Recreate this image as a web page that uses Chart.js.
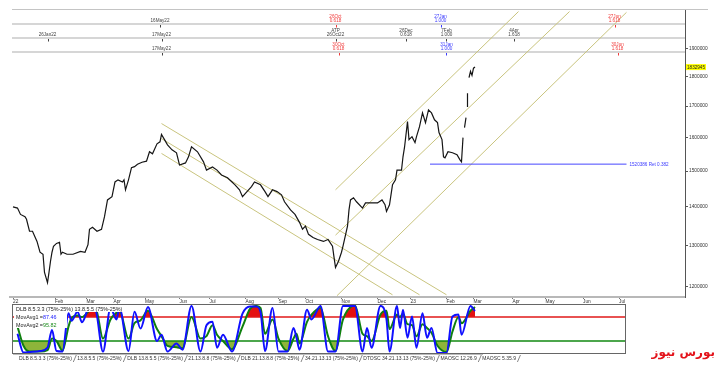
<!DOCTYPE html>
<html>
<head>
<meta charset="utf-8">
<script src="https://cdn.jsdelivr.net/npm/chart.js@4.4.1/dist/chart.umd.min.js"></script>
<style>
  html, body { margin: 0; padding: 0; background: #fff; }
  #wrap { position: relative; width: 719px; height: 365px; overflow: hidden; }
  #price { position: absolute; left: 0; top: 0; }
  #osc { position: absolute; left: 0; top: 300px; }
  #brand { position: absolute; right: 4px; top: 345px; font: bold 12px "DejaVu Sans"; color: #e3131b; direction: rtl; white-space: nowrap; }
</style>
</head>
<body>
<div id="wrap">
  <canvas id="price" width="719" height="304"></canvas>
  <canvas id="osc" width="719" height="65"></canvas>
  <div id="brand">بورس نیوز</div>
</div>
<script>
// month ticks (trading-bar index from Jan 2022)
const monthBars = [0, 28, 49, 67, 88, 111, 131, 155, 177, 195, 219, 243, 265, 289, 307, 333, 355, 380, 404]
const monthLabels = ['22', 'Feb', 'Mar', 'Apr', 'May', 'Jun', 'Jul', 'Aug', 'Sep', 'Oct', 'Nov', 'Dec', '23', 'Feb', 'Mar', 'Apr', 'May', 'Jun', 'Jul']

// right axis ticks
const priceTicks = [1200000, 1300000, 1400000, 1500000, 1600000, 1700000, 1800000, 1900000]

// close line
const priceBars = [
  0, 3, 5, 8, 9, 11, 13, 16, 18, 20, 21, 23, 24, 25, 26, 27, 29, 31, 32, 33,
  36, 40, 45, 48, 50, 51, 53, 56, 59, 61, 63, 66, 68, 70, 73, 74, 75, 77, 79, 81,
  83, 86, 89, 91, 93, 96, 98, 99, 101, 103, 106, 109, 111, 115, 117, 119, 123, 127, 129, 133,
  136, 139, 143, 146, 148, 151, 153, 156, 159, 161, 165, 168, 170, 173, 176, 179, 181, 185, 188, 191,
  193, 195, 197, 200, 203, 207, 210, 213, 214, 215, 217, 219, 220, 223, 224, 225, 227, 229, 233, 235,
  238, 243, 246, 248, 249, 251, 253, 255, 256, 259, 260, 261, 263, 264, 266, 268, 269, 271, 273, 275,
  277, 279, 281, 283, 284, 286, 287, 288, 290, 293, 296, 298, 299, 300, 300.5, 301, 302, 302.5, 303, 303,
  303.5, 304, 305, 306, 307, 308
]
const priceClose = [
  1400000, 1397000, 1380000, 1374000, 1367000, 1336000, 1336000, 1310000, 1283000, 1278000,
  1234000, 1210000, 1234000, 1261000, 1283000, 1298000, 1305000, 1308000, 1278000, 1283000,
  1278000, 1278000, 1285000, 1283000, 1302000, 1341000, 1346000, 1336000, 1341000, 1374000,
  1419000, 1428000, 1469000, 1475000, 1469000, 1475000, 1447000, 1475000, 1510000, 1513000,
  1520000, 1526000, 1529000, 1557000, 1551000, 1581000, 1587000, 1610000, 1594000, 1578000,
  1563000, 1554000, 1518000, 1524000, 1542000, 1572000, 1557000, 1527000, 1503000, 1512000,
  1503000, 1489000, 1481000, 1469000, 1461000, 1447000, 1428000, 1442000, 1456000, 1469000,
  1461000, 1442000, 1428000, 1447000, 1442000, 1433000, 1414000, 1392000, 1380000, 1359000,
  1341000, 1349000, 1328000, 1320000, 1315000, 1310000, 1315000, 1298000, 1271000, 1246000,
  1261000, 1283000, 1298000, 1349000, 1392000, 1419000, 1425000, 1414000, 1397000, 1411000,
  1411000, 1411000, 1419000, 1406000, 1388000, 1406000, 1461000, 1475000, 1503000, 1503000,
  1542000, 1570000, 1650000, 1594000, 1603000, 1585000, 1603000, 1634000, 1678000, 1647000,
  1688000, 1678000, 1656000, 1647000, 1616000, 1594000, 1542000, 1539000, 1557000, 1554000,
  1548000, 1533000, 1527000, 1600000, null, 1631000, 1663000, null, 1697000, 1743000,
  null, 1796000, 1818000, 1804000, 1829000, 1832945
]

// trend channels: [startBar, startPrice, endBar, endPrice]
const downChannel = [
  [99, 1644000, 289, 1182000],
  [99, 1597000, 271, 1182000],
  [99, 1552000, 253, 1182000]
]
const upChannel = [
  [215, 1447000, 337, 2040000],
  [215, 1326000, 371, 2040000],
  [216, 1180000, 409, 2037000]
]

// 0.382 retracement
const retLevel = 1520386
const retFrom = 278
const retTo = 409

// fibonacci time marks, three rows
const timeMarkBars = [
  [98, 215, 285, 401],
  [23, 99, 215, 262, 289, 334],
  [99, 217, 289, 403]
]
const timeMarkText = [
  ['16May22', '26Oct\n0.618', '27Jan\n1.000', '27Jun\n1.618'],
  ['26Jan22', '17May22', 'ATP\n26Oct22', '26Dec\n0.618', '7Feb\n1.000', '4Apr\n1.618'],
  ['17May22', '30Oct\n0.618', '31Jan\n1.000', '30Jun\n1.618']
]
const timeMarkColor = [
  ['#444', '#f03a3a', '#3a3aff', '#f03a3a'],
  ['#444', '#444', '#444', '#444', '#444', '#444'],
  ['#444', '#f03a3a', '#3a3aff', '#f03a3a']
]
const rowLineY = [24, 38, 52]

// oscillator
const oscBars = [3, 7, 11, 18, 23, 26, 29, 33, 37, 39, 43, 46, 51, 55, 60, 65, 69, 71, 77, 81,
  85, 90, 96, 99, 103, 109, 113, 119, 125, 129, 133, 136, 140, 146, 153, 158, 162, 165, 168, 173,
  177, 183, 187, 189, 191, 196, 199, 205, 210, 215, 220, 228, 233, 236, 239, 245, 249, 251, 256, 258,
  260, 263, 266, 269, 273, 276, 279, 283, 289, 293, 297, 299, 305, 308]
const movAvg1 = [40, 1, 2, 4, 11, 48, 4, 3, 83, 67, 86, 64, 96, 90, 3, 94, 70, 94, 4, 86,
  51, 96, 25, 38, 3, 20, 7, 98, 3, 58, 65, 11, 38, 3, 82, 97, 97, 86, 4, 94,
  3, 3, 52, 32, 7, 90, 70, 98, 3, 3, 98, 98, 3, 52, 11, 98, 70, 3, 98, 52,
  90, 32, 76, 11, 83, 32, 52, 0, 0, 76, 80, 38, 98, 87.46]
const movAvg2 = [55, 15, 3, 3, 6, 30, 25, 5, 55, 72, 78, 75, 88, 94, 30, 70, 84, 88, 30, 62,
  68, 88, 50, 35, 15, 12, 10, 75, 30, 35, 58, 38, 25, 8, 55, 92, 98, 94, 40, 70,
  30, 4, 30, 40, 20, 65, 80, 94, 35, 4, 70, 99, 40, 35, 25, 80, 88, 50, 80, 75,
  82, 60, 58, 35, 60, 52, 42, 15, 2, 45, 75, 62, 88, 95.82]
const upperBand = 75
const lowerBand = 25
const oscTabs = ['DLB 8.5.3.3 (75%-25%)', '13.8.5.5 (75%-25%)', 'DLB 13.8.5.5 (75%-25%)', '21.13.8.8 (75%-25%)',
  'DLB 21.13.8.8 (75%-25%)', '34.21.13.13 (75%-25%)', 'DTOSC 34.21.13.13 (75%-25%)', 'MAOSC 12.26.9', 'MAOSC 5.35.9']

const TINY = '"Liberation Sans", Arial, sans-serif'
const channelColor = '#c9c47e'

function seg(s) {
  return {
    data: [{ x: s[0], y: s[1] }, { x: s[2], y: s[3] }],
    borderColor: channelColor,
    borderWidth: 1
  }
}

// draws the row lines, time labels, retracement label and last price box
const priceDecor = {
  id: 'priceDecor',
  beforeDatasetsDraw(chart) {
    const ctx = chart.ctx
    const a = chart.chartArea
    ctx.save()
    ctx.strokeStyle = '#c4c4c4'
    ctx.lineWidth = 1
    ctx.beginPath()
    ctx.moveTo(12, a.top + 0.5)
    ctx.lineTo(708, a.top + 0.5)
    ctx.stroke()
    ctx.strokeStyle = '#d6d6d6'
    ctx.lineWidth = 2
    rowLineY.forEach(y => {
      ctx.beginPath()
      ctx.moveTo(12, y)
      ctx.lineTo(a.right, y)
      ctx.stroke()
    })
    ctx.restore()
  },
  afterDatasetsDraw(chart) {
    const ctx = chart.ctx
    const xs = chart.scales.x
    const ys = chart.scales.y
    ctx.save()
    ctx.font = '4.6px ' + TINY
    ctx.textAlign = 'center'
    timeMarkBars.forEach((row, r) => {
      row.forEach((bar, i) => {
        const x = xs.getPixelForValue(bar)
        const lines = timeMarkText[r][i].split('\n')
        ctx.fillStyle = timeMarkColor[r][i]
        lines.forEach((t, k) => {
          ctx.fillText(t, x, rowLineY[r] - 2 - (lines.length - 1 - k) * 3.6)
        })
        ctx.fillRect(Math.round(x), rowLineY[r] + 1, 1, 2.5)
      })
    })

    // retracement label
    ctx.textAlign = 'left'
    ctx.fillStyle = '#3a3aff'
    ctx.fillText(retLevel + ' Ret 0.382', xs.getPixelForValue(retTo) + 3, ys.getPixelForValue(retLevel) + 1.6)

    // last price box
    const last = priceClose[priceClose.length - 1]
    const py = ys.getPixelForValue(last)
    ctx.fillStyle = '#ffff00'
    ctx.fillRect(chart.chartArea.right + 1, py - 3, 20, 6)
    ctx.fillStyle = '#222'
    ctx.textAlign = 'center'
    ctx.fillText(String(last), chart.chartArea.right + 11, py + 1.7)
    ctx.restore()
  }
}

const priceChart = new Chart(document.getElementById('price'), {
  type: 'line',
  data: {
    datasets: [
      {
        data: priceBars.map((b, i) => ({ x: b, y: priceClose[i] })),
        borderColor: '#151515',
        borderWidth: 1.2,
        spanGaps: false
      },
      {
        data: [{ x: retFrom, y: retLevel }, { x: retTo, y: retLevel }],
        borderColor: '#4646ff',
        borderWidth: 1
      },
      ...downChannel.map(seg),
      ...upChannel.map(seg)
    ]
  },
  options: {
    responsive: false,
    animation: false,
    layout: { padding: { left: 10, top: 9, right: 0, bottom: 0 } },
    plugins: {
      legend: { display: false },
      tooltip: { enabled: false }
    },
    elements: {
      point: { radius: 0 },
      line: { tension: 0 }
    },
    scales: {
      x: {
        type: 'linear',
        min: -2,
        max: 448,
        afterBuildTicks: s => { s.ticks = monthBars.map(v => ({ value: v })) },
        afterFit: s => { s.height = 7 },
        grid: { drawOnChartArea: false, tickLength: 2, color: '#777' },
        border: { color: '#b8b8b8', width: 2 },
        ticks: {
          align: 'start',
          autoSkip: false,
          maxRotation: 0,
          padding: 0,
          color: '#333',
          font: { size: 4.8, family: TINY },
          callback: (v, i) => monthLabels[i]
        }
      },
      y: {
        type: 'logarithmic',
        position: 'right',
        min: 1177000,
        max: 2050000,
        afterBuildTicks: s => { s.ticks = priceTicks.map(v => ({ value: v })) },
        afterFit: s => { s.width = 34 },
        grid: { drawOnChartArea: false, tickLength: 3, color: '#555' },
        border: { color: '#555', width: 1 },
        ticks: {
          autoSkip: false,
          padding: 1,
          color: '#333',
          font: { size: 4.8, family: TINY },
          callback: v => String(v)
        }
      }
    }
  },
  plugins: [priceDecor]
})

// panel frame, legend and tab strip for the oscillator
const oscDecor = {
  id: 'oscDecor',
  afterDraw(chart) {
    const ctx = chart.ctx
    const a = chart.chartArea
    ctx.save()
    ctx.strokeStyle = '#666'
    ctx.lineWidth = 1
    ctx.strokeRect(a.left - 0.5, a.top - 0.5, a.right - a.left + 1, a.bottom - a.top + 1)

    ctx.font = '5.4px ' + TINY
    const head = 'DLB 8.5.3.3 (75%-25%) 13.8.5.5 (75%-25%)'
    ctx.fillStyle = '#fff'
    ctx.fillRect(a.left + 1, a.top + 1, ctx.measureText(head).width + 4, 6)
    ctx.fillRect(a.left + 1, a.top + 1, 53, 22)
    ctx.textAlign = 'left'
    ctx.fillStyle = '#222'
    ctx.fillText(head, a.left + 3, a.top + 5.5)
    const rows = [['MovAvg1 =', movAvg1, '#2020ff'], ['MovAvg2 =', movAvg2, '#1a8a1a']]
    rows.forEach((r, i) => {
      const y = a.top + 14 + i * 8
      ctx.fillStyle = '#222'
      ctx.fillText(r[0], a.left + 3, y)
      ctx.fillStyle = r[2]
      ctx.fillText(r[1][r[1].length - 1].toFixed(2), a.left + 3 + ctx.measureText(r[0]).width, y)
    })

    // tabs
    ctx.strokeStyle = '#bbb'
    ctx.beginPath()
    ctx.moveTo(a.left, a.bottom + 1.5)
    ctx.lineTo(a.left + 470, a.bottom + 1.5)
    ctx.stroke()
    ctx.font = '5px ' + TINY
    let x = 19
    oscTabs.forEach(t => {
      ctx.fillStyle = '#333'
      ctx.fillText(t, x, 60)
      x += ctx.measureText(t).width + 1.5
      ctx.strokeStyle = '#888'
      ctx.beginPath()
      ctx.moveTo(x, 62)
      ctx.lineTo(x + 3, 55)
      ctx.stroke()
      x += 4
    })
    ctx.restore()
  }
}

const pts = vals => oscBars.map((b, i) => ({ x: b, y: vals[i] }))

new Chart(document.getElementById('osc'), {
  type: 'line',
  data: {
    datasets: [
      { data: pts(movAvg1), borderColor: '#1010ff', borderWidth: 2 },
      { data: pts(movAvg2), borderColor: '#0f800f', borderWidth: 2 },
      { data: [{ x: 0, y: upperBand }, { x: 408, y: upperBand }], borderColor: '#e01818', borderWidth: 1.5, tension: 0 },
      { data: [{ x: 0, y: lowerBand }, { x: 408, y: lowerBand }], borderColor: '#118811', borderWidth: 1.5, tension: 0 },
      {
        data: pts(movAvg2), borderWidth: 0, borderColor: 'rgba(0,0,0,0)',
        fill: { target: { value: upperBand }, above: '#e41010', below: 'rgba(0,0,0,0)' }
      },
      {
        data: pts(movAvg2), borderWidth: 0, borderColor: 'rgba(0,0,0,0)',
        fill: { target: { value: lowerBand }, above: 'rgba(0,0,0,0)', below: '#8db53a' }
      }
    ]
  },
  options: {
    responsive: false,
    animation: false,
    layout: { padding: { left: 13, right: 94, top: 5, bottom: 12 } },
    plugins: {
      legend: { display: false },
      tooltip: { enabled: false }
    },
    elements: {
      point: { radius: 0 },
      line: { cubicInterpolationMode: 'monotone' }
    },
    scales: {
      x: { type: 'linear', min: 0, max: 408, display: false },
      y: { min: 0, max: 100, display: false }
    }
  },
  plugins: [oscDecor]
})
</script>
</body>
</html>
